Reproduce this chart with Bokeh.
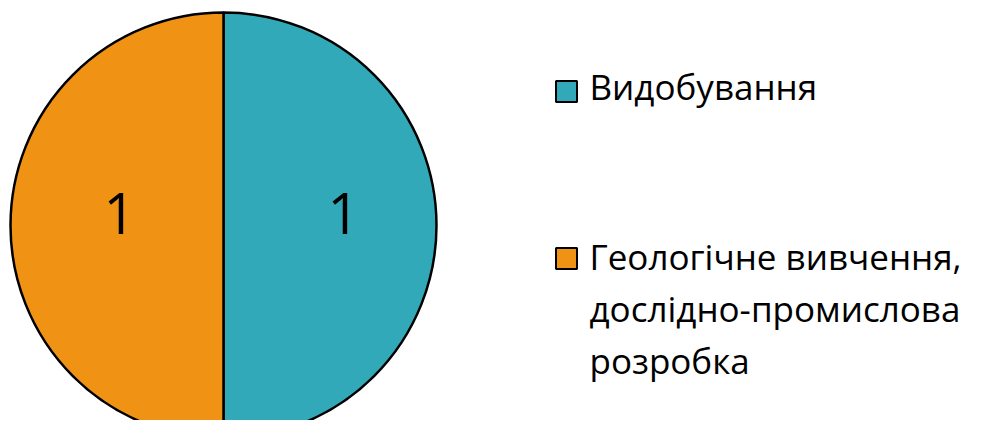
import numpy as np
from bokeh.plotting import figure
from bokeh.models import Range1d, ColumnDataSource
from bokeh.core.properties import value
from bokeh.embed import file_html
from bokeh.resources import INLINE

categories = ["Видобування", "Геологічне вивчення,\nдослідно-промислова\nрозробка"]
values = [1, 1]
colors = ["#31A9B8", "#F09214"]

W, H = 975, 420
p = figure(width=W, height=H, output_backend="svg", toolbar_location=None,
           x_range=Range1d(0, W), y_range=Range1d(436 - H, 436),
           min_border=0)
p.axis.visible = False
p.grid.visible = False
p.outline_line_color = None
p.background_fill_color = "white"

# screen coords: data y = 436 - screen_y
cx, cy, r = 223, 436 - 225, 213
vals = np.array(values, dtype=float)
fr = vals / vals.sum()
ends = np.pi / 2 - 2 * np.pi * np.cumsum(fr)
starts = np.concatenate([[np.pi / 2], ends[:-1]])
mids = (starts + ends) / 2

src = ColumnDataSource(dict(x=[cx] * len(vals), y=[cy] * len(vals),
                            start=list(ends), end=list(starts), color=colors))
p.wedge(x="x", y="y", radius=r, start_angle="start", end_angle="end",
        fill_color="color", line_color="black", line_width=2.5, source=src)

lr = 112
p.text(x=[cx + lr * np.cos(m) + 8 for m in mids], y=[cy + 12 + lr * np.sin(m) for m in mids],
       text=[str(v) for v in values], text_align="center", text_baseline="middle",
       text_font=value("Open Sans"), text_font_size="56px", text_color="black")

# legend
lx = 566
sq_y = [91, 258]          # screen y of swatch centres
first_base = [86, 256]    # screen y of first text line anchor
line_gap = 52
p.rect(x=[lx] * len(categories), y=[436 - s for s in sq_y], width=21, height=21,
       fill_color=colors, line_color="black", line_width=2)
tx, ty, tt = [], [], []
for cat, b in zip(categories, first_base):
    for i, line in enumerate(cat.split("\n")):
        tx.append(589)
        ty.append(436 - (b + i * line_gap))
        tt.append(line)
p.text(x=tx, y=ty, text=tt, text_align="left", text_baseline="alphabetic",
       text_font=value("Open Sans"), text_font_size="35px", text_color="black")

open("out.html", "w").write(file_html(p, INLINE))
